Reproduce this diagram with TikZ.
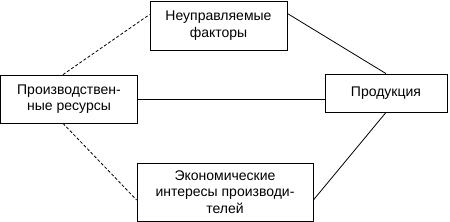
\documentclass[tikz,border=0pt]{standalone}
\usepackage{fontspec}
\setmainfont{Liberation Sans}
\usetikzlibrary{positioning}

\begin{document}
\begin{tikzpicture}[
    x=1pt, y=-1pt,
    box/.style={draw=black, line width=0.8pt, inner sep=0pt, align=center, font=\fontsize{14}{16.5}\selectfont},
    link/.style={line width=0.8pt, color=black},
    dlink/.style={line width=0.8pt, color=black, dash pattern=on 3pt off 2pt}
  ]
    \useasboundingbox (0,0) rectangle (450,222);

    \node[box, minimum width=137pt, minimum height=49pt] (fact) at (218.5,25.5) {Неуправляемые\\факторы};
    \node[box, minimum width=137pt, minimum height=48pt] (res) at (69,99) {Производствен-\\ные ресурсы};
    \node[box, minimum width=122pt, minimum height=38pt] (prod) at (386,93) {Продукция};
    \node[box, minimum width=176pt, minimum height=58pt] (int) at (225,192) {Экономические\\интересы производи-\\телей};

    \draw[dlink] ([xshift=-6pt]res.north) -- ([yshift=11pt]fact.west);
    \draw[link] ([yshift=12pt]fact.east) -- (prod.north);
    \draw[link] (res.east) -- (res.east -| prod.west);
    \draw[dlink] ([xshift=-6pt]res.south) -- ([yshift=-8pt]int.west);
    \draw[link] (prod.south) -- ([yshift=-8pt]int.east);
  \end{tikzpicture}
\end{document}
